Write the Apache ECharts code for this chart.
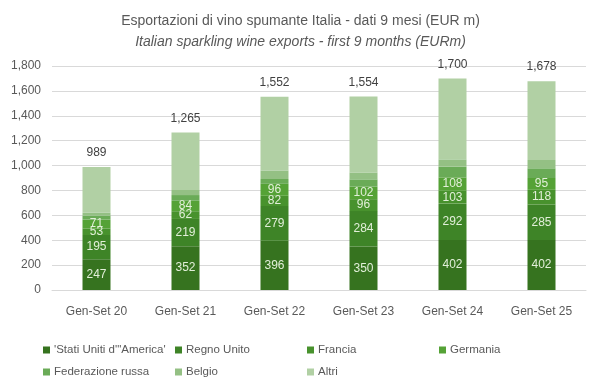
<!DOCTYPE html>
<html>
<head>
<meta charset="utf-8">
<script src="https://cdn.jsdelivr.net/npm/echarts@6/dist/echarts.min.js"></script>
<style>html,body{margin:0;padding:0;background:#fff}#c{width:601px;height:378px}</style>
</head>
<body>
<div id="c"></div>
<script>
const categories = ['Gen-Set 20','Gen-Set 21','Gen-Set 22','Gen-Set 23','Gen-Set 24','Gen-Set 25'];
const usa      = [247, 352, 396, 350, 402, 402];
const uk       = [195, 219, 279, 284, 292, 285];
const francia  = [53, 62, 82, 96, 103, 118];
const germania = [71, 84, 96, 102, 108, 95];
const russia   = [30, 46, 39, 57, 86, 78];
const belgio   = [25, 41, 67, 54, 59, 67];
const altri    = [368, 461, 593, 611, 650, 633];
const totals   = [989, 1265, 1552, 1554, 1700, 1678];
const seriesNames = ["'Stati Uniti d'\"America'", 'Regno Unito', 'Francia', 'Germania', 'Federazione russa', 'Belgio', 'Altri'];
const seriesData = [usa, uk, francia, germania, russia, belgio, altri];
const colors = ['#36731f', '#3e8427', '#48922d', '#55a236', '#6aab57', '#94c084', '#b1d0a4'];

const font = 'Liberation Sans';
const chart = echarts.init(document.getElementById('c'), null, {renderer: 'canvas'});

const series = seriesData.map((d, i) => {
  const s = {
    name: seriesNames[i], type: 'bar', stack: 'tot', data: d, barWidth: 28,
    itemStyle: {color: colors[i]},
    emphasis: {disabled: true}
  };
  if (i < 4) {
    s.label = {show: true, position: 'inside', color: '#e2efd9', fontSize: 12, fontFamily: font};
  } else if (i === 6) {
    s.label = {show: true, position: 'top', distance: 8, color: '#404040', fontSize: 12, fontFamily: font,
      formatter: p => totals[p.dataIndex].toLocaleString('en-US')};
  }
  return s;
});

const legendPos = [[38,339],[170,339],[302,339],[434,339],[38,361],[170,361],[302,361]];
const legends = seriesNames.map((n, i) => ({
  data: [n], left: legendPos[i][0], top: legendPos[i][1], itemWidth: 7, itemHeight: 7, itemGap: 4,
  icon: 'rect', selectedMode: false,
  textStyle: {color: '#595959', fontSize: 11.5, fontFamily: font, padding: [0,0,0,-1]}
}));

chart.setOption({
  animation: false,
  color: colors,
  title: [
    {text: 'Esportazioni di vino spumante Italia - dati 9 mesi (EUR m)', left: 'center', top: 9,
     textStyle: {color: '#595959', fontSize: 14, fontWeight: 'normal', fontFamily: font}},
    {text: 'Italian sparkling wine exports - first 9 months (EURm)', left: 'center', top: 30,
     textStyle: {color: '#595959', fontSize: 14, fontWeight: 'normal', fontStyle: 'italic', fontFamily: font}}
  ],
  legend: legends,
  grid: {left: 52, right: 15, top: 66, bottom: 88, containLabel: false},
  xAxis: {
    type: 'category', data: categories,
    axisLine: {lineStyle: {color: '#d9d9d9'}}, axisTick: {show: false},
    axisLabel: {color: '#595959', fontSize: 12, fontFamily: font, margin: 16}
  },
  yAxis: {
    type: 'value', min: 0, max: 1800, interval: 200,
    axisLine: {show: false}, axisTick: {show: false},
    splitLine: {lineStyle: {color: '#d9d9d9'}},
    axisLabel: {color: '#595959', fontSize: 12, fontFamily: font, margin: 11,
      formatter: v => v.toLocaleString('en-US')}
  },
  series: series
});
</script>
</body>
</html>
